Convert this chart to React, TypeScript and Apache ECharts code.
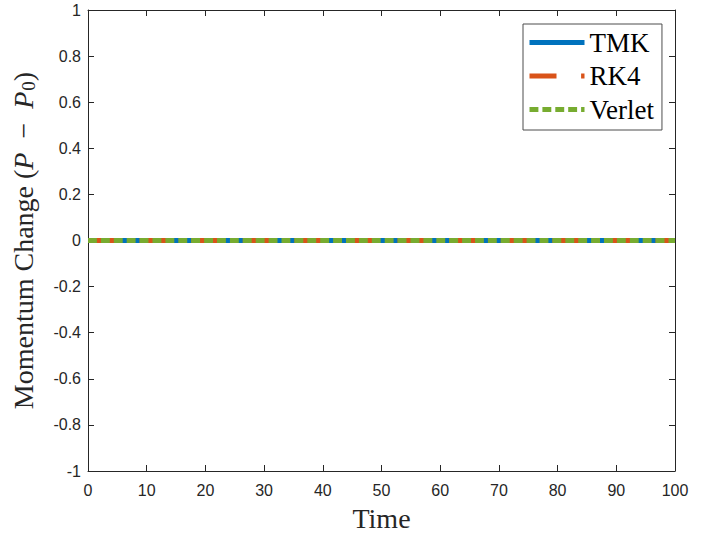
import React, { useEffect, useRef } from "react";
import * as echarts from "echarts";

const time = [0, 10, 20, 30, 40, 50, 60, 70, 80, 90, 100];
const tmk = [0, 0, 0, 0, 0, 0, 0, 0, 0, 0, 0];
const rk4 = [0, 0, 0, 0, 0, 0, 0, 0, 0, 0, 0];
const verlet = [0, 0, 0, 0, 0, 0, 0, 0, 0, 0, 0];
const seriesNames = ["TMK", "RK4", "Verlet"];

const AX = "#262626";
const TICK_FONT = "Liberation Sans, Arial, Helvetica, sans-serif";
const SERIF = "Liberation Serif, Times New Roman, serif";

export default function App() {
  const ref = useRef<HTMLDivElement>(null);
  useEffect(() => {
    if (!ref.current) return;
    const chart = echarts.init(ref.current, undefined, { renderer: "svg" });
    const pair = (ys: number[]) => time.map((t, i) => [t, ys[i]]);
    const tickCommon = { show: true, inside: true, length: 6, lineStyle: { color: AX, width: 1 } };
    const lineCommon = { show: true, onZero: false, lineStyle: { color: AX, width: 1 } };
    chart.setOption({
      animation: false,
      backgroundColor: "#fff",
      grid: { left: 88, top: 10, right: 34, bottom: 65, containLabel: false, outerBoundsMode: "none" },
      xAxis: [
        {
          type: "value", min: 0, max: 100, interval: 10, position: "bottom",
          axisLine: lineCommon,
          axisTick: tickCommon,
          splitLine: { show: false },
          axisLabel: { color: AX, fontSize: 16, fontFamily: TICK_FONT, margin: 11 },
          name: "Time", nameLocation: "middle", nameGap: 33,
          nameTextStyle: { fontFamily: SERIF, fontSize: 28, color: AX },
        },
        {
          type: "value", min: 0, max: 100, interval: 10, position: "top",
          axisLine: lineCommon,
          axisTick: tickCommon, axisLabel: { show: false }, splitLine: { show: false },
        },
      ],
      yAxis: [
        {
          type: "value", min: -1, max: 1, interval: 0.2, position: "left",
          axisLine: lineCommon,
          axisTick: tickCommon,
          splitLine: { show: false },
          axisLabel: {
            color: AX, fontSize: 16, fontFamily: TICK_FONT, margin: 7,
            formatter: (v: number) => String(parseFloat(v.toFixed(1))),
          },
          name: "{n|Momentum Change (}{i|P}{n|  −  }{i|P}{s|0}{n|)}",
          nameLocation: "middle", nameGap: 50, nameRotate: 90,
          nameTextStyle: {
            color: AX,
            rich: {
              n: { fontFamily: SERIF, fontSize: 28, color: AX },
              i: { fontFamily: SERIF, fontSize: 28, fontStyle: "italic", color: AX },
              s: { fontFamily: SERIF, fontSize: 19, color: AX, verticalAlign: "bottom", padding: [10, 0, 0, 1] },
            },
          },
        },
        {
          type: "value", min: -1, max: 1, interval: 0.2, position: "right",
          axisLine: lineCommon,
          axisTick: tickCommon, axisLabel: { show: false }, splitLine: { show: false },
        },
      ],
      legend: {
        orient: "vertical", left: 523, top: 24,
        padding: [5, 8, 7, 4],
        itemWidth: 55, itemHeight: 14, itemGap: 6.5,
        borderColor: "#4d4d4d", borderWidth: 1, backgroundColor: "#fff",
        itemStyle: { opacity: 0 },
        lineStyle: { width: 5 },
        textStyle: { fontFamily: SERIF, fontSize: 27, color: "#000", lineHeight: 26 },
        data: seriesNames,
      },
      series: [
        {
          name: seriesNames[0], type: "line", data: pair(tmk), showSymbol: false, symbol: "none",
          lineStyle: { color: "#0072BD", width: 5 }, itemStyle: { color: "#0072BD" },
        },
        {
          name: seriesNames[1], type: "line", data: pair(rk4), showSymbol: false, symbol: "none",
          lineStyle: { color: "#D95319", width: 5, type: [27, 24.6] }, itemStyle: { color: "#D95319" },
        },
        {
          name: seriesNames[2], type: "line", data: pair(verlet), showSymbol: false, symbol: "none",
          lineStyle: { color: "#77AC30", width: 5, type: [8.9, 4] }, itemStyle: { color: "#77AC30" },
        },
      ],
    });
    return () => chart.dispose();
  }, []);
  return <div ref={ref} style={{ width: 709, height: 536, position: "absolute", left: 0, top: 0 }} />;
}
